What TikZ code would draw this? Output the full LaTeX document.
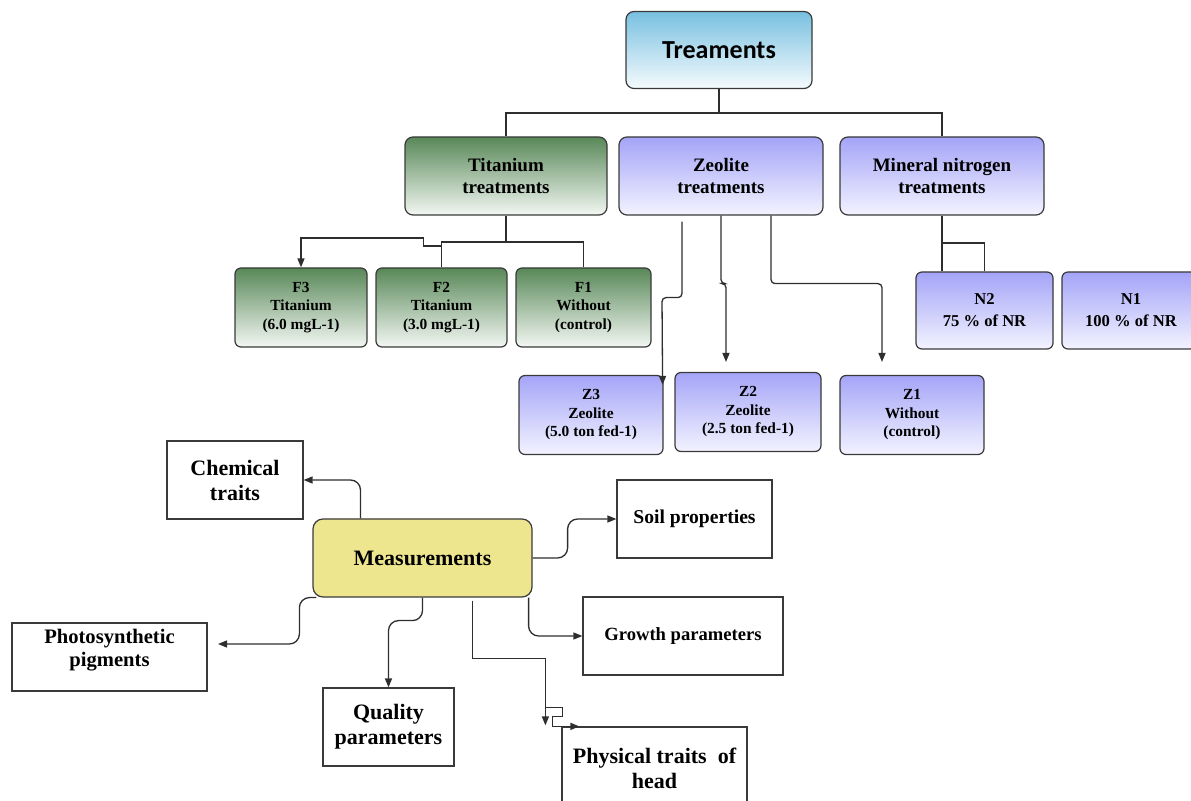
\documentclass[tikz,border=0pt]{standalone}
\usepackage{fontspec}
\setmainfont{Liberation Serif}
\newfontfamily\titlefont{Carlito}
\usepackage{tikz}
\usetikzlibrary{shapes, arrows.meta, positioning, calc}
\usepackage{xcolor}
\definecolor{boxgrey}{HTML}{3A3A3A}
\definecolor{linegrey}{HTML}{2E2E2E}
\definecolor{skytop}{HTML}{78C0E0}
\definecolor{skybot}{HTML}{F5FBFD}
\definecolor{titop}{HTML}{588858}
\definecolor{tibot}{HTML}{F3F7F3}
\definecolor{zetop}{HTML}{A4A4F8}
\definecolor{zebot}{HTML}{F3F3FF}
\definecolor{khaki}{HTML}{EEE68E}
\tikzset{
  treatbox/.style={rectangle, draw=boxgrey, line width=0.6pt, top color=skytop, bottom color=skybot,
                   rounded corners=4pt, minimum width=93pt, minimum height=38.5pt,
                   font=\titlefont\bfseries\fontsize{13}{15}\selectfont},
  tibox/.style={rectangle, draw=boxgrey, line width=0.6pt, top color=titop, bottom color=tibot,
                rounded corners=4pt, minimum height=39pt, align=center,
                font=\bfseries\fontsize{9.5}{10.8}\selectfont},
  zebox/.style={tibox, top color=zetop, bottom color=zebot},
  tileaf/.style={tibox, rounded corners=3pt, minimum height=39.5pt, inner sep=1pt,
                 font=\bfseries\fontsize{7.7}{9.25}\selectfont},
  zeleaf/.style={tileaf, top color=zetop, bottom color=zebot},
  nleaf/.style={zeleaf, font=\bfseries\fontsize{8.3}{11}\selectfont},
  measbox/.style={rectangle, draw=boxgrey, line width=0.6pt, fill=khaki, rounded corners=5pt,
                  minimum width=109.5pt, minimum height=39pt,
                  font=\bfseries\fontsize{11}{13}\selectfont},
  leafbox/.style={rectangle, draw=boxgrey, line width=0.6pt, fill=white, align=center,
                  minimum height=39pt, inner sep=1pt, font=\bfseries\fontsize{11}{12.5}\selectfont},
  tree/.style={draw=linegrey, line width=0.65pt},
  sharplink/.style={tree, -{Triangle[length=4.5pt,width=3.5pt]}},
  zlink/.style={sharplink, rounded corners=2pt},
  mlink/.style={sharplink, rounded corners=5pt},
}

\begin{document}
\begin{tikzpicture}[x=0.5pt, y=-0.5pt]
  \useasboundingbox (0,0) rectangle (1191,801);

  % --- Treatments ---
  \node[treatbox] (treat) at (719, 50) {Treaments};
  \node[tibox, minimum width=101pt] (titan) at (506, 176) {Titanium\\treatments};
  \node[zebox, minimum width=102pt] (zeol) at (721, 176) {Zeolite\\treatments};
  \node[zebox, minimum width=102pt] (miner) at (942, 176) {Mineral nitrogen\\treatments};

  % --- Titanium levels ---
  \node[tileaf, minimum width=66pt]   (f3) at (301, 307.5)   {F3\\Titanium\\(6.0 mgL-1)};
  \node[tileaf, minimum width=65.5pt] (f2) at (441.5, 307.5) {F2\\Titanium\\(3.0 mgL-1)};
  \node[tileaf, minimum width=67.5pt] (f1) at (583.5, 307.5) {F1\\Without\\(control)};

  % --- Zeolite levels ---
  \node[zeleaf, minimum width=72pt] (z3) at (591, 415) {Z3\\Zeolite\\(5.0 ton fed-1)};
  \node[zeleaf, minimum width=73pt] (z2) at (748, 412) {Z2\\Zeolite\\(2.5 ton fed-1)};
  \node[zeleaf, minimum width=72pt] (z1) at (912, 415) {Z1\\Without\\(control)};

  % --- Nitrogen levels ---
  \node[nleaf, minimum width=68.5pt, minimum height=38.5pt] (n2) at (984.5, 310.5) {N2\\75 \% of NR};
  \node[nleaf, minimum width=69pt, minimum height=38.5pt]   (n1) at (1131, 310.5)  {N1\\100 \% of NR};

  % --- Measurements ---
  \node[measbox] (meas) at (422.5, 558) {Measurements};
  \node[leafbox, minimum width=68pt]   (chem)   at (235, 480)   {Chemical\\traits};
  \node[leafbox, minimum width=77.5pt, font=\bfseries\fontsize{9.8}{12}\selectfont] (soil) at (694.5, 519) {Soil properties};
  \node[leafbox, minimum width=100pt, font=\bfseries\fontsize{9.3}{12}\selectfont]  (growth) at (683, 636) {Growth parameters};
  \node[leafbox, minimum width=97.5pt, minimum height=34pt, font=\bfseries\fontsize{10.3}{11.5}\selectfont] (photo) at (109.5, 657) {Photosynthetic\\pigments\\[-2.5pt]\mbox{}};
  \node[leafbox, minimum width=65.5pt] (qual) at (388.5, 727) {Quality\\parameters};
  \node[leafbox, minimum width=92.5pt, minimum height=41.5pt] (phys) at (654.5, 768.5) {Physical traits~~of\\head};

  % --- tree lines ---
  \coordinate (tjoin) at (719, 113);
  \draw[tree] (treat.south) -- (tjoin);
  \draw[tree] (titan.north) |- (tjoin) -| (miner.north);

  \coordinate (fjoin) at (506, 242);
  \draw[tree] (titan.south) -- (fjoin);
  \draw[tree] (f2.north) |- (fjoin) -| (f1.north);
  \draw[sharplink] ($(f2.north |- fjoin)+(0,4)$) -- ++(-18,0) -- ++(0,-8) -| (f3.north);

  \coordinate (z2tip) at (726, 362);
  \coordinate (z1tip) at (882, 362);
  \draw[zlink] ($(zeol.south)+(-39,6)$) -- ++(0,76) -- ++(-20,0) -- ($(z3.north east)+(-1,10)$);
  \draw[zlink] (zeol.south) -- ++(0,68) -| (z2tip);
  \draw[zlink] ($(zeol.south)+(50,0)$) -- ++(0,68) -| (z1tip);

  \coordinate (njoin) at (942, 243);
  \draw[tree] (miner.south) -- (miner.south |- n2.north);
  \draw[tree] (njoin) -| (n2.north);

  % --- measurement links ---
  \coordinate (phtip) at (218, 644);
  \draw[mlink] ($(meas.north)+(-62,0)$) |- (chem.east);
  \draw[mlink] (meas.east) -- ++(35,0) |- (soil.west);
  \draw[mlink] ($(meas.south east)+(-4,0)$) |- (growth.west);
  \draw[mlink] ($(meas.south west)+(4,0)$) -- ++(-17,0) |- (phtip);
  \draw[mlink] (meas.south) -- ++(0,23) -| (qual.north);
  \draw[sharplink] ($(meas.south)+(50,3)$) -- ++(0,58) -| ($(phys.north west)+(-16,-1)$);
  \draw[sharplink] ($(phys.north west)+(-16,-19)$) -- ++(17,0) -- ++(0,9) -- ++(-10,0) |- ($(phys.north west)+(18,0)$);

\end{tikzpicture}
\end{document}
